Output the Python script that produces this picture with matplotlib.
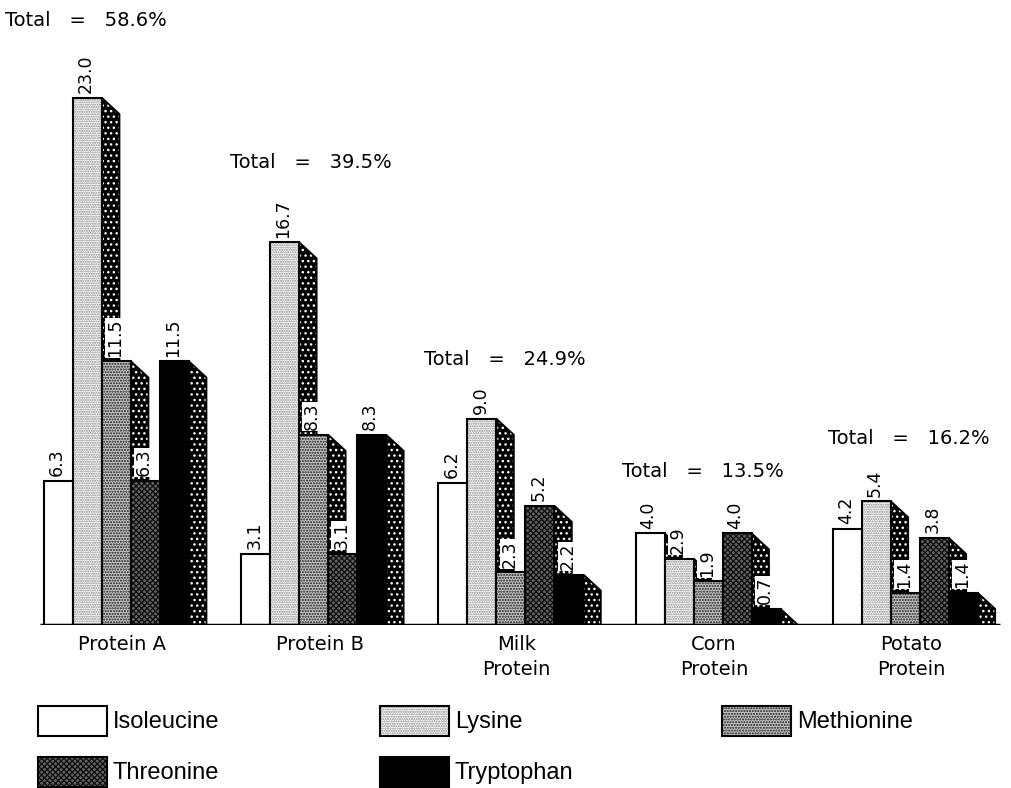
import numpy as np
import matplotlib
matplotlib.use('Agg')
import matplotlib.pyplot as plt
from matplotlib.patches import Polygon, Rectangle

plt.rcParams['font.family'] = ['DejaVu Sans']
plt.rcParams['hatch.linewidth'] = 1.0

# data
groups = ['Protein A', 'Protein B', 'Milk\nProtein', 'Corn\nProtein', 'Potato\nProtein']
acids = ['Isoleucine', 'Lysine', 'Methionine', 'Threonine', 'Tryptophan']
isoleucine = [6.3, 3.1, 6.2, 4.0, 4.2]
lysine = [23.0, 16.7, 9.0, 2.9, 5.4]
methionine = [11.5, 8.3, 2.3, 1.9, 1.4]
threonine = [6.3, 3.1, 5.2, 4.0, 3.8]
tryptophan = [11.5, 8.3, 2.2, 0.7, 1.4]
totals = [58.6, 39.5, 24.9, 13.5, 16.2]
series = [isoleucine, lysine, methionine, threonine, tryptophan]

# styles: (facecolor, hatch, hatchcolor)
styles = [('white', '', 'black'),
          ('white', '.......', '#8a8a8a'),
          ('#c4c4c4', '......', '#1a1a1a'),
          ('#666666', 'xxxxxx', '#111111'),
          ('black', '', 'black')]
side_style = ('black', '...', 'white')

# layout
width = 1.0
gap = 6.8
start = 1.52
dx, dy = 0.6, 0.7
total_pos = [(0.17, 26.4), (7.93, 20.2), (14.62, 11.6), (21.45, 6.7), (28.55, 8.13)]

fig = plt.figure(figsize=(10.12, 7.88), dpi=100)
ax = fig.add_axes([0, 0.2069, 1, 0.788])
ax.set_xlim(0, 34.9)
ax.set_ylim(0, 27.1)
ax.axis('off')

g0 = start + gap * np.arange(len(groups))
for i, vals in enumerate(series):
    x = g0 + i * width
    fc, h, hc = styles[i]
    # side faces
    for xi, v in zip(x, vals):
        xr = xi + width
        pts = [(xr, v), (xr + dx, max(v - dy, 0)), (xr + dx, 0), (xr, 0)]
        ax.add_patch(Polygon(pts, closed=True, facecolor=side_style[0], hatch=side_style[1],
                             edgecolor=side_style[2], lw=0, zorder=2 * i))
        ax.add_patch(Polygon(pts, closed=True, fill=False, edgecolor='black', lw=1.3, zorder=2 * i + 0.2))
    ax.bar(x, vals, width, align='edge', color=fc, hatch=h, edgecolor=hc, lw=0, zorder=2 * i + 1)
    ax.bar(x, vals, width, align='edge', fill=False, edgecolor='black', lw=1.5, zorder=2 * i + 1.5)
    for xi, v in zip(x, vals):
        ax.text(xi + width * 0.45, v + 0.2, f'{v:.1f}', rotation=90, ha='center', va='bottom',
                fontsize=12.5, zorder=20,
                bbox=dict(facecolor='white', edgecolor='none', pad=0.6))

ax.hlines(0, 1.38, 34.5, color='black', lw=2.5, zorder=30)

for (tx, ty), t in zip(total_pos, totals):
    ax.text(tx, ty, f'Total   =   {t}%', ha='left', va='center', fontsize=14)

for gx, name in zip(g0, groups):
    ax.text(gx + 2.7, -0.45, name, ha='center', va='top', fontsize=14, linespacing=1.4)

# legend
lax = fig.add_axes([0, 0, 1, 1])
lax.set_xlim(0, 1012)
lax.set_ylim(788, 0)
lax.axis('off')
lpos = [(38, 706), (380, 706), (722, 706), (38, 757), (380, 757)]
for (lx, ly), name, (fc, h, hc) in zip(lpos, acids, styles):
    lax.add_patch(Rectangle((lx, ly), 69, 30, facecolor=fc, hatch=h, edgecolor=hc, lw=0))
    lax.add_patch(Rectangle((lx, ly), 69, 30, fill=False, edgecolor='black', lw=1.5))
    lax.text(lx + 75, ly + 16, name, ha='left', va='center', fontsize=17,
             family=['Liberation Sans Narrow', 'Liberation Sans'])

fig.savefig('out.png', dpi=100)
